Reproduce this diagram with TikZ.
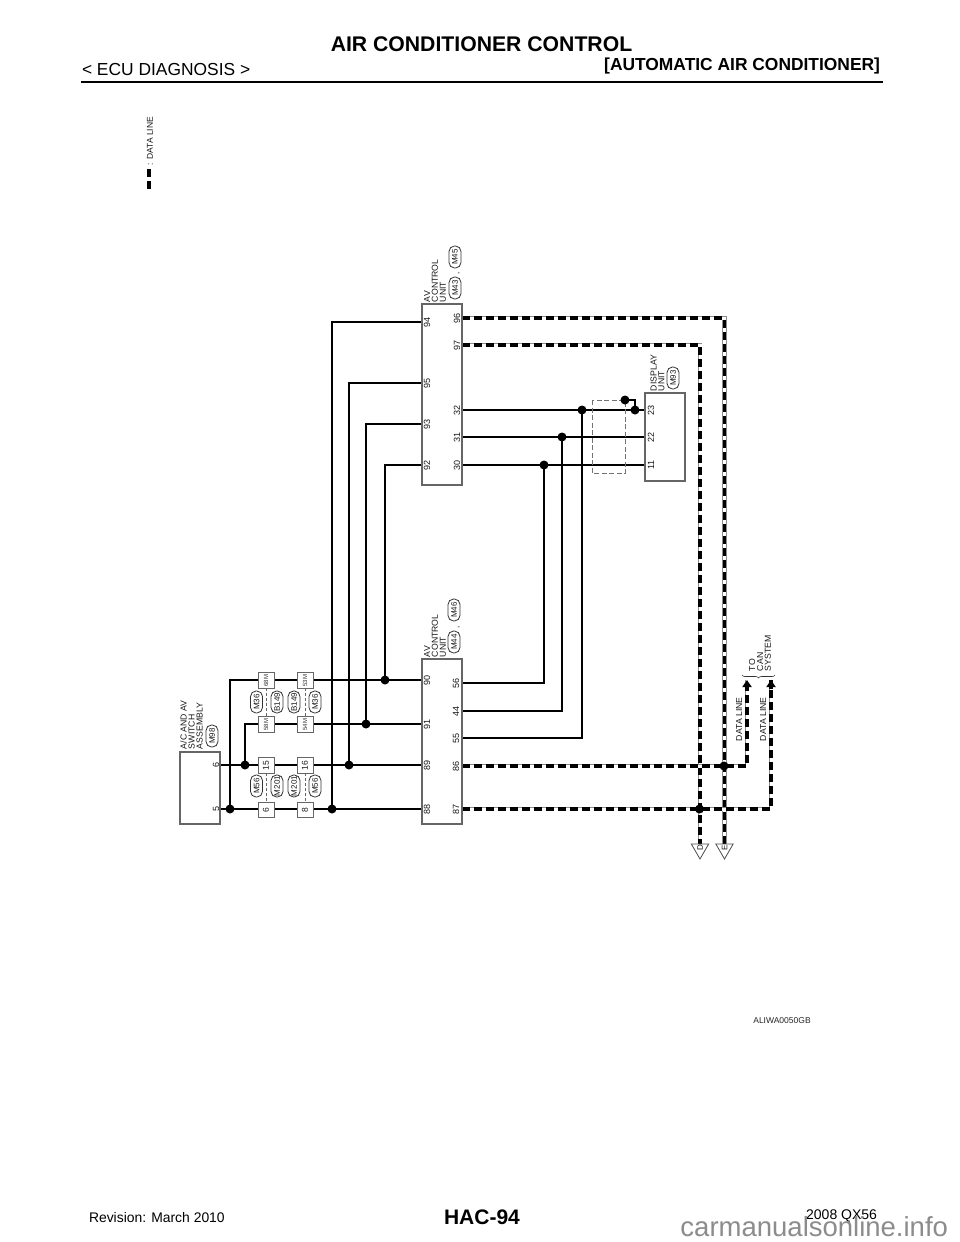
\documentclass[tikz,border=0pt]{standalone}
\usepackage{fontspec}
\setmainfont{Liberation Sans}
\usetikzlibrary{backgrounds,shapes.geometric,arrows.meta,decorations.pathreplacing}
\newcommand{\fsz}[1]{\fontsize{#1}{#1}\selectfont}
\tikzset{
  x=1pt,y=-1pt,
  boxn/.style={draw=black!60,line width=1.1pt,fill=white,inner sep=0,outer sep=0},
  conn/.style={boxn,minimum width=16pt,minimum height=15.5pt,line width=1pt},
  rt/.style={rotate=90,inner sep=0,outer sep=0,text=black!90},
  pin/.style={rt,font=\fsz{9}},
  small/.style={rt,font=\fsz{6},text=black!80},
  cnum/.style={rt,font=\fsz{8.5}},
  pill/.style={rt,draw=black!80,line width=.8pt,rounded corners=5.5pt,minimum width=22pt,minimum height=12pt,font=\fsz{8},fill=white},
  lbl/.style={rt,anchor=west,align=left,font=\fontsize{8.7}{7.9}\selectfont},
  dotn/.style={circle,fill=black,inner sep=0,minimum size=9pt},
  wire/.style={line width=2.1pt,black,line join=miter},
  thin dash/.style={draw=black!60,line width=.8pt,dash pattern=on 3pt off 2pt},
  shade dash/.style={draw=black!55,line width=1pt,dash pattern=on 5pt off 2.5pt},
  dataln/.style={line width=3.6pt,black,line join=miter,dash pattern=on 8pt off 4pt,
    preaction={draw,solid,line width=4.6pt,black!45},
    preaction={draw,solid,line width=3pt,white}},
  tri/.style={regular polygon,regular polygon sides=3,shape border rotate=180,draw=black!70,fill=white,line width=.8pt,minimum size=20pt,inner sep=0},
  hdr/.style={inner sep=0,outer sep=0,text=black},
}
\begin{document}
\begin{tikzpicture}
\useasboundingbox (0,0) rectangle (960,1242);
% header / footer
\node[hdr,font=\fsz{21.2}\bfseries,anchor=center] (title) at (481.5,44) {AIR CONDITIONER CONTROL};
\node[hdr,font=\fsz{17.4},anchor=west] (ecu) at (82,70) {< ECU DIAGNOSIS >};
\node[hdr,font=\fsz{17.4}\bfseries,anchor=east] (auto) at (880,66) {[AUTOMATIC AIR CONDITIONER]};
\coordinate (ruleL) at (81,82); \coordinate (ruleR) at (883,82);
\draw[line width=2.8pt] (ruleL) -- (ruleR);
\node[hdr,font=\fsz{13.9},anchor=west] (rev) at (89,1218) {Revision: March 2010};
\node[hdr,anchor=center,font=\fsz{21}\bfseries] (page) at (482,1217) {HAC-94};
\node[hdr,font=\fsz{14},anchor=east] (model) at (877,1216) {2008 QX56};
\node[hdr,font=\fsz{27.5},anchor=east,text=black!45] (wm) at (948,1227) {carmanualsonline.info};
\node[hdr,font=\fsz{8.5},text=black!85] (code) at (782,1021) {ALIWA0050GB};
% legend
\node[rt,anchor=west,font=\fsz{8.5}] (leg) at (150,165) {: DATA LINE};
\coordinate (lgA) at (149,169); \coordinate (lgB) at (149,176.5);
\coordinate (lgC) at (149,181); \coordinate (lgD) at (149,188.5);
\draw[line width=4pt] (lgA) -- (lgB) (lgC) -- (lgD);
% boxes
\node[boxn,minimum width=40pt,minimum height=72pt] (ac) at (200,788) {};
\node[boxn,minimum width=40pt,minimum height=165pt] (avB) at (442,741.5) {};
\node[boxn,minimum width=40pt,minimum height=181pt] (avA) at (442,394.5) {};
\node[boxn,minimum width=40pt,minimum height=88pt] (dsp) at (665,437) {};
% pins
\node[pin] (p6) at (216,765) {6};
\node[pin] (p5) at (216,809) {5};
\node[pin] (p90) at (427,680) {90};
\node[pin] (p91) at (427,724) {91};
\node[pin] (p89) at (427,765) {89};
\node[pin] (p88) at (427,809) {88};
\node[pin] (p56) at (456,683) {56};
\node[pin] (p44) at (456,711) {44};
\node[pin] (p55) at (456,738) {55};
\node[pin] (p86) at (456,766) {86};
\node[pin] (p87) at (456,809) {87};
\node[pin] (p94) at (427,322) {94};
\node[pin] (p95) at (427,383) {95};
\node[pin] (p93) at (427,424) {93};
\node[pin] (p92) at (427,465) {92};
\node[pin] (p96) at (457,318) {96};
\node[pin] (p97) at (457,345) {97};
\node[pin] (p32) at (457,410) {32};
\node[pin] (p31) at (457,437) {31};
\node[pin] (p30) at (457,465) {30};
\node[pin] (p23) at (651,410) {23};
\node[pin] (p22) at (651,437) {22};
\node[pin] (p11) at (651,465) {11};
% connector boxes
\node[conn] (c68) at (266,680.5) {}; \node[small] (t68) at (c68) {68M};
\node[conn] (c53) at (305,680.5) {}; \node[small] (t53) at (c53) {53M};
\node[conn] (c58) at (266,724.5) {}; \node[small] (t58) at (c58) {58M};
\node[conn] (c54) at (305,724.5) {}; \node[small] (t54) at (c54) {54M};
\node[conn] (c15) at (266,765.5) {}; \node[cnum] (t15) at (c15) {15};
\node[conn] (c16) at (305,765.5) {}; \node[cnum] (t16) at (c16) {16};
\node[conn] (c6) at (266,810) {}; \node[cnum] (t6) at (c6) {6};
\node[conn] (c8) at (305,810) {}; \node[cnum] (t8) at (c8) {8};
% pills
\node[pill] (m36a) at (256.5,702) {M36};
\node[pill] (b149a) at (277,702) {B149};
\node[pill] (b149b) at (294,702) {B149};
\node[pill] (m36b) at (315,702) {M36};
\node[pill] (m56a) at (256.5,786) {M56};
\node[pill] (m201a) at (277,786) {M201};
\node[pill] (m201b) at (294,786) {M201};
\node[pill] (m56b) at (315,786) {M56};
\node[pill] (m98) at (212,736) {M98};
\node[pill] (m44) at (454,642) {M44};
\node[pill] (m46) at (454,610) {M46};
\node[pill] (m43) at (455,288) {M43};
\node[pill] (m45) at (455,257) {M45};
\node[pill] (m93) at (673,378) {M93};
\node[rt,font=\fsz{8}] (cmA) at (459,627) {,};
\node[rt,font=\fsz{8}] (cmB) at (459,273) {,};
% labels
\node[lbl] (acl) at (191.5,749) {A/C AND AV\\SWITCH\\ASSEMBLY};
\node[lbl] (avl2) at (435,657) {AV\\CONTROL\\UNIT};
\node[lbl] (avl1) at (435,302) {AV\\CONTROL\\UNIT};
\node[lbl] (dspl) at (657.5,391) {DISPLAY\\UNIT};
\node[lbl] (dl1) at (739,741) {DATA LINE};
\node[lbl] (dl2) at (763,741) {DATA LINE};
\node[lbl] (can) at (760,671) {TO\\CAN\\SYSTEM};
% dots
\node[dotn] (dL) at (230,809) {};
\node[dotn] (dK) at (245,765) {};
\node[dotn] (d94) at (332,809) {};
\node[dotn] (d95) at (349,765) {};
\node[dotn] (d93) at (366,724) {};
\node[dotn] (d92) at (385,680) {};
\node[dotn] (d30) at (544,465) {};
\node[dotn] (d31) at (562,437) {};
\node[dotn] (d32) at (582,410) {};
\node[dotn] (dS1) at (625,400) {};
\node[dotn] (dS2) at (635,410) {};
\node[dotn] (dC1) at (724,766) {};
\node[dotn] (dC2) at (699.5,809) {};
% terminals
\node[tri] (tD) at (700,849) {};
\node[tri] (tE) at (724.5,849) {};
\node[rt,font=\fsz{8}] (tDl) at (700,848) {D};
\node[rt,font=\fsz{8}] (tEl) at (724.5,848) {E};
\coordinate (tipA) at (747,680);
\coordinate (tipB) at (771,680);
\coordinate (brL) at (742,675);
\coordinate (brR) at (775,675);
\coordinate (shA) at (592,400);
\coordinate (shB) at (592,473);
\coordinate (shC) at (625,473);
\coordinate (bendA) at (230,680);
\coordinate (bendB) at (245,724);
\coordinate (bendC) at (747,766);
\coordinate (bendD) at (771,809);
% brace
\draw[line width=.6pt,black!80,decorate,decoration={brace,amplitude=3pt,mirror}] (brL) -- (brR);
\begin{pgfonlayer}{background}
\fill[white] (0,0) rectangle (960,1242);
% connector dashes
\draw[thin dash] (c68) -- (c58);
\draw[thin dash] (c53) -- (c54);
\draw[thin dash] (c15) -- (c6);
\draw[thin dash] (c16) -- (c8);
% solid wires
\draw[wire] (ac.east |- p6) -- (avB.west |- p89);
\draw[wire] (ac.east |- p5) -- (avB.west |- p88);
\draw[wire] (avB.west |- p90) -- (bendA) -- (dL.center);
\draw[wire] (avB.west |- p91) -- (bendB) -- (dK.center);
\draw[wire] (d94.center) |- (avA.west |- p94);
\draw[wire] (d95.center) |- (avA.west |- p95);
\draw[wire] (d93.center) |- (avA.west |- p93);
\draw[wire] (d92.center) |- (avA.west |- p92);
\draw[wire] (avA.east |- p32) -- (dsp.west |- p23);
\draw[wire] (avA.east |- p31) -- (dsp.west |- p22);
\draw[wire] (avA.east |- p30) -- (dsp.west |- p11);
\draw[wire] (avB.east |- p56) -| (d30.center);
\draw[wire] (avB.east |- p44) -| (d31.center);
\draw[wire] (avB.east |- p55) -| (d32.center);
\draw[wire] (dS1.center) -| (dS2.center);
% shield
\draw[shade dash] (shA) -- (shB) -- (shC) -- (dS1.center) -- cycle;
% data lines
\draw[dataln] (avA.east |- p96) -| (tE.center);
\draw[dataln] (avA.east |- p97) -| (tD.center);
\draw[dataln] (avB.east |- p86) -- (bendC) -- (tipA);
\draw[dataln] (avB.east |- p87) -- (bendD) -- (tipB);
\draw[line width=3.6pt,-{Triangle[length=7pt,width=9pt]}] ([yshift=-9pt]tipA) -- (tipA);
\draw[line width=3.6pt,-{Triangle[length=7pt,width=9pt]}] ([yshift=-9pt]tipB) -- (tipB);
\end{pgfonlayer}
\end{tikzpicture}
\end{document}
